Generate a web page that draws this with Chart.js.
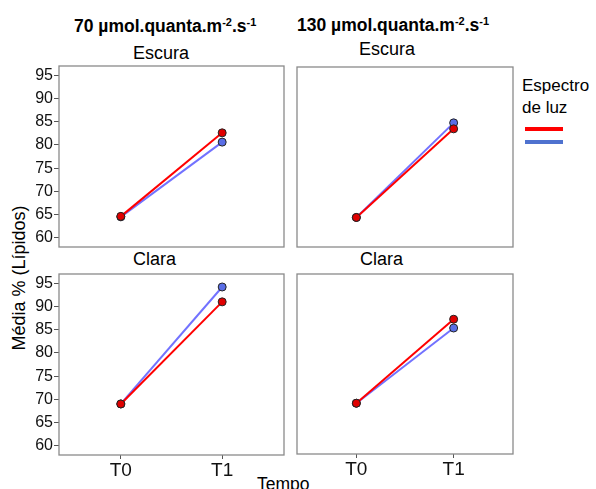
<!DOCTYPE html>
<html>
<head>
<meta charset="utf-8">
<script src="https://cdn.jsdelivr.net/npm/chart.js@4.4.1/dist/chart.umd.min.js"></script>
<style>
  body { margin: 0; background: #fff; font-family: "Liberation Sans", Arial, sans-serif; }
  #wrap { position: relative; width: 596px; height: 489px; overflow: hidden; }
  .txt { position: absolute; white-space: nowrap; color: #000; line-height: 1; }
  .txt sup { font-size: 11px; line-height: 0; vertical-align: 6px; }
  .cab { font-weight: bold; font-size: 17.5px; }
  .tit { font-size: 18px; }
  canvas { position: absolute; }
  .leg { position: absolute; left: 525px; width: 38px; height: 4px; }
</style>
</head>
<body>
<div id="wrap">
  <div class="txt cab" style="left:74px;top:17.5px">70 µmol.quanta.m<sup>-2</sup>.s<sup>-1</sup></div>
  <div class="txt cab" style="left:297px;top:17px">130 µmol.quanta.m<sup>-2</sup>.s<sup>-1</sup></div>
  <div class="txt tit" style="left:133px;top:44px">Escura</div>
  <div class="txt tit" style="left:359px;top:40px">Escura</div>
  <div class="txt tit" style="left:133px;top:250px">Clara</div>
  <div class="txt tit" style="left:360px;top:250px">Clara</div>
  <div class="txt" style="left:19px;top:278px;font-size:18px;transform:translate(-50%,-50%) rotate(-90deg)">Média % (Lípidos)</div>
  <div class="txt" style="left:257px;top:476px;font-size:17.5px">Tempo</div>
  <div class="txt" style="left:522px;top:77px;font-size:17px">Espectro</div>
  <div class="txt" style="left:522px;top:99px;font-size:17px">de luz</div>
  <div class="leg" style="top:127px;background:#ff0000"></div>
  <div class="leg" style="top:140px;background:#4f72cf"></div>
  <canvas id="c0"></canvas>
  <canvas id="c1"></canvas>
  <canvas id="c2"></canvas>
  <canvas id="c3"></canvas>
</div>

<script>
// categorias e valores (média % de lípidos)
const tempos = ['T0', 'T1'];
const yTicks = [60, 65, 70, 75, 80, 85, 90, 95];

const escura70Vermelho = [64.6, 82.6];
const escura70Azul = [64.5, 80.6];
const escura130Vermelho = [64.4, 83.6];
const escura130Azul = [64.4, 84.9];
const clara70Vermelho = [69.0, 91.0];
const clara70Azul = [69.0, 94.2];
const clara130Vermelho = [69.0, 87.2];
const clara130Azul = [69.0, 85.3];

// caixa cinza em volta da área do gráfico
const moldura = {
    id: 'moldura',
    beforeDatasetsDraw(chart) {
        const { ctx, chartArea: a } = chart;
        ctx.save();
        ctx.strokeStyle = '#8a8a8a';
        ctx.lineWidth = 1.3;
        ctx.strokeRect(a.left, a.top, a.right - a.left, a.bottom - a.top);
        ctx.restore();
    }
};

const Y_W = 45, X_H = 30, PAD = 2;

// painéis: área do gráfico em px da página
const paineis = [
    { id: 'c0', L: 59, T: 63, R: 287, B: 247, verm: escura70Vermelho, azul: escura70Azul, eixoY: true, eixoX: false },
    { id: 'c1', L: 297, T: 64, R: 516, B: 247, verm: escura130Vermelho, azul: escura130Azul, eixoY: false, eixoX: false },
    { id: 'c2', L: 59, T: 271, R: 287, B: 455, verm: clara70Vermelho, azul: clara70Azul, eixoY: true, eixoX: true },
    { id: 'c3', L: 297, T: 271, R: 516, B: 454, verm: clara130Vermelho, azul: clara130Azul, eixoY: false, eixoX: true }
];

const pontos = vals => vals.map((v, i) => ({ x: i, y: v }));

paineis.forEach(p => {
    const cv = document.getElementById(p.id);
    cv.width = (p.R - p.L) + Y_W + PAD;
    cv.height = (p.B - p.T) + PAD + X_H;
    cv.style.left = (p.L - Y_W) + 'px';
    cv.style.top = (p.T - PAD) + 'px';

    new Chart(cv, {
        type: 'line',
        data: {
            datasets: [{
                label: 'Vermelho',
                data: pontos(p.verm),
                borderColor: '#ff0000',
                borderWidth: 2,
                pointRadius: 4,
                pointBackgroundColor: '#e00000',
                pointBorderColor: '#222',
                pointBorderWidth: 1
            }, {
                label: 'Azul',
                data: pontos(p.azul),
                borderColor: '#7272ff',
                borderWidth: 2,
                pointRadius: 4,
                pointBackgroundColor: '#5a6ee6',
                pointBorderColor: '#222',
                pointBorderWidth: 1
            }]
        },
        options: {
            responsive: false,
            animation: false,
            layout: { padding: { top: PAD, right: PAD, left: 0, bottom: 0 } },
            plugins: { legend: { display: false }, tooltip: { enabled: false } },
            scales: {
                x: {
                    type: 'linear',
                    min: -0.61,
                    max: 1.61,
                    afterBuildTicks: s => { s.ticks = tempos.map((t, i) => ({ value: i })); },
                    afterFit: s => {
                        s.height = X_H;
                        s.paddingLeft = s.paddingRight = s.paddingTop = s.paddingBottom = 0;
                    },
                    border: { display: false },
                    grid: { display: p.eixoX, drawOnChartArea: false, tickLength: 4, color: '#555' },
                    ticks: {
                        display: p.eixoX,
                        padding: 0,
                        color: '#111',
                        font: { family: 'Liberation Sans', size: 19 },
                        callback: v => tempos[v]
                    }
                },
                y: {
                    min: 58,
                    max: 97,
                    afterBuildTicks: s => { s.ticks = yTicks.map(v => ({ value: v })); },
                    afterFit: s => {
                        s.width = Y_W;
                        s.paddingLeft = s.paddingRight = s.paddingTop = s.paddingBottom = 0;
                    },
                    border: { display: false },
                    grid: { display: p.eixoY, drawOnChartArea: false, tickLength: 5, color: '#555' },
                    ticks: {
                        display: p.eixoY,
                        padding: 1,
                        color: '#111',
                        font: { family: 'Liberation Sans', size: 16 }
                    }
                }
            }
        },
        plugins: [moldura]
    });
});
</script>
</body>
</html>
